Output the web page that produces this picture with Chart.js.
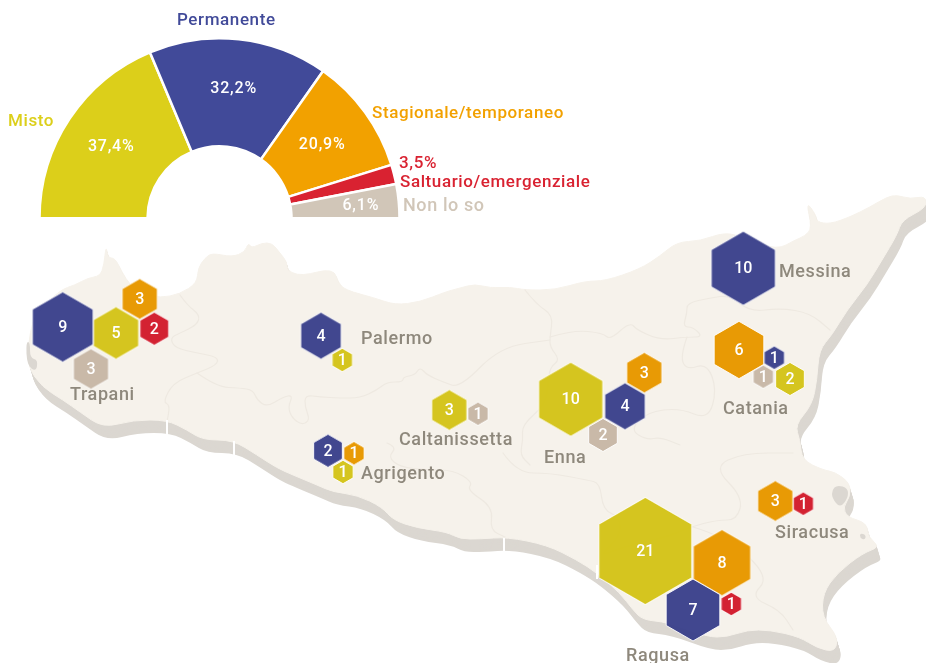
<!DOCTYPE html>
<html><head><meta charset="utf-8">
<script src="https://cdn.jsdelivr.net/npm/chart.js@4"></script>
<style>html,body{margin:0;padding:0;background:#fff;width:926px;height:663px;overflow:hidden}
canvas{position:absolute;left:0;top:0}</style></head>
<body>
<canvas id="map" width="926" height="663"></canvas>
<canvas id="pie" width="926" height="230"></canvas>
<script>
// ---- share of answers (half doughnut)
const categories = ['Misto','Permanente','Stagionale/temporaneo','Saltuario/emergenziale','Non lo so'];
const shares = [37.4,32.2,20.9,3.5,6.1];
const shareLabels = ['37,4%','32,2%','20,9%','3,5%','6,1%'];

// ---- counts per province and map location of each hexagon
const mistoValues = [5,1,3,1,10,2,21];
const mistoX = [116,342.3,449.3,343,570.7,790,645.3];
const mistoY = [333,360,410,472,399.3,379,551];
const permanenteValues = [9,4,2,4,10,1,7];
const permanenteX = [62.7,321,328,625,743.3,774.3,693];
const permanenteY = [327,335.7,450.7,406.3,268.3,357.7,610];
const stagionaleValues = [3,1,3,6,3,8];
const stagionaleX = [139.7,354,644.3,739,775.3,722];
const stagionaleY = [299,453.3,372.7,350,501,562.7];
const saltuarioValues = [2,1,1];
const saltuarioX = [154.3,803.3,731.3];
const saltuarioY = [328.7,503.7,604];
const nonLoSoValues = [3,1,2,1];
const nonLoSoX = [91,478,603,763.3];
const nonLoSoY = [369,413.7,435,376.7];

const provinceNames = ['Trapani','Palermo','Caltanissetta','Agrigento','Enna','Messina','Catania','Siracusa','Ragusa'];
const provinceLabelX = [70,361,399,361,544,779,723,775,626];
const provinceLabelY = [394,338,439,473,457,271,408,532,655];

// ---- decorative base map (outline of the island and province borders)
const coast = [[28,345],[33,320],[40,310],[60,290],[75,285],[88,278],[100,276],[104,265],[106,245],[108,258],[115,258],[122,272],[130,285],[143,293],[160,298],[180,294],[197,283],[198,268],[205,258],[212,253],[232,257],[245,252],[248,243],[252,248],[262,243],[272,243],[280,253],[287,262],[287,270],[297,275],[310,274],[325,270],[335,272],[338,282],[345,290],[375,298],[395,305],[420,302],[445,292],[460,288],[475,284],[490,288],[510,287],[525,290],[555,290],[585,281],[605,281],[640,269],[660,256],[677,242],[700,241],[725,232],[745,238],[777,250],[795,240],[805,236],[812,228],[806,201],[816,215],[817,222],[830,224],[850,217],[870,207],[887,197],[897,195],[910,199],[926,196],[926,208],[902,220],[897,235],[882,260],[867,285],[847,310],[832,335],[819,350],[817,380],[812,405],[795,425],[800,440],[802,460],[823,470],[835,472],[850,483],[850,497],[843,507],[847,517],[867,523],[868,537],[880,547],[863,553],[837,573],[823,593],[822,617],[838,637],[835,652],[817,648],[800,637],[770,630],[747,630],[727,637],[707,637],[667,622],[643,620],[633,610],[620,593],[597,573],[577,560],[547,545],[507,537],[480,539],[460,539],[447,532],[417,528],[393,520],[382,507],[357,495],[333,492],[317,485],[293,475],[277,468],[257,455],[233,440],[203,440],[187,430],[167,420],[133,420],[103,428],[80,412],[63,400],[42,387],[28,367]];
const borders = [
 [[180,295],[187,305],[200,315],[197,325],[180,333],[170,338],[175,348],[197,353],[218,357],[217,365],[197,373],[173,383],[163,402],[170,405],[167,422]],
 [[197,373],[217,387],[240,388],[253,390],[257,400],[267,407],[283,397],[293,395],[288,407],[292,418],[302,425],[310,420],[305,407],[305,395],[320,397],[340,398],[360,398],[377,390],[387,382],[403,382],[403,377],[415,375],[420,367],[427,375],[443,382],[460,388],[500,347],[550,340]],
 [[525,290],[537,305],[553,315],[550,337],[550,347],[560,360],[550,367],[548,385],[545,405],[522,425],[523,440],[520,455],[530,465]],
 [[550,337],[573,330],[603,333],[610,340],[630,322],[637,330],[660,340],[687,337],[703,337],[693,327],[683,327],[687,313],[687,303],[710,298],[730,295],[750,312],[780,308],[810,313],[830,330]],
 [[687,337],[680,357],[687,370],[707,363],[717,390],[708,420],[680,408],[647,412],[630,430],[647,440],[660,437],[680,445]],
 [[387,443],[397,447],[388,457],[400,467],[427,470],[453,470],[473,482],[467,490],[493,507],[490,530],[505,537]],
 [[503,453],[517,473],[550,473],[587,480],[600,483],[603,510],[620,517],[620,537],[598,557],[623,547],[667,537],[690,527],[717,520],[737,520],[743,497],[713,467],[743,453],[793,453]],
 [[693,527],[727,537],[770,577],[750,597],[780,610],[793,630]]
];
const shadowBits = [
 [[832,490],[837,485],[848,488],[848,498],[840,508],[832,498]],
 [[860,533],[866,535],[865,540],[860,538]],
 [[26,342],[30,342],[30,358],[38,360],[36,372],[27,365]]
];
const seaNotches = [[504,538,504,552],[597,565,597,579],[167,420,167,434],[234,441,234,455]];

function smoothPath(ctx, pts, closed){
  ctx.beginPath();
  const n = pts.length, mid=(a,b)=>[(a[0]+b[0])/2,(a[1]+b[1])/2];
  if(closed){
    const s = mid(pts[n-1],pts[0]); ctx.moveTo(s[0],s[1]);
    for(let i=0;i<n;i++){ const m=mid(pts[i],pts[(i+1)%n]); ctx.quadraticCurveTo(pts[i][0],pts[i][1],m[0],m[1]); }
    ctx.closePath();
  } else {
    ctx.moveTo(pts[0][0],pts[0][1]);
    for(let i=1;i<n-1;i++){ const m=mid(pts[i],pts[i+1]); ctx.quadraticCurveTo(pts[i][0],pts[i][1],m[0],m[1]); }
    ctx.lineTo(pts[n-1][0],pts[n-1][1]);
  }
}
const baseMapPlugin = {
  id:'baseMap',
  beforeDatasetsDraw(chart){
    const c = chart.ctx; c.save();
    c.lineJoin='round'; c.lineCap='round';
    c.fillStyle='#dbd7d1';
    for(let i=13;i>=1;i--){ c.save(); c.translate(i*0.3,i); smoothPath(c,coast,true); c.fill(); c.restore(); }
    c.fillStyle='#f6f2eb'; c.strokeStyle='#f6f2eb'; c.lineWidth=1;
    smoothPath(c,coast,true); c.fill(); c.stroke();
    c.fillStyle='#dbd7d1';
    shadowBits.forEach(b=>{ smoothPath(c,b,true); c.fill(); });
    c.strokeStyle='#eee9e1'; c.lineWidth=1.2;
    borders.forEach(b=>{ smoothPath(c,b,false); c.stroke(); });
    c.strokeStyle='#ffffff'; c.lineWidth=2; c.lineCap='butt';
    seaNotches.forEach(n=>{ c.beginPath(); c.moveTo(n[0],n[1]); c.lineTo(n[2],n[3]); c.stroke(); });
    c.restore();
  }
};

// ---- hexagon marker, area proportional to the count
const HEX_SCALE = 11.7;
function hexagon(value, color){
  const R = HEX_SCALE*Math.sqrt(value);
  const size = Math.ceil(2*R+4);
  const cv = document.createElement('canvas'); cv.width=size; cv.height=size;
  const g = cv.getContext('2d');
  g.beginPath();
  for(let i=0;i<6;i++){
    const a = Math.PI/3*i - Math.PI/2;
    const x=size/2+R*Math.cos(a), y=size/2+R*Math.sin(a);
    i?g.lineTo(x,y):g.moveTo(x,y);
  }
  g.closePath();
  g.fillStyle=color; g.fill();
  g.lineWidth=1; g.strokeStyle='rgba(255,255,255,0.9)'; g.lineJoin='miter'; g.stroke();
  return cv;
}
function series(label, vals, xs, ys, color){
  return {
    label,
    data: vals.map((v,i)=>({x:xs[i],y:ys[i],v})),
    pointStyle: ctx => ctx.raw ? hexagon(ctx.raw.v,color) : 'circle',
    pointRadius: ctx => ctx.raw ? HEX_SCALE*Math.sqrt(ctx.raw.v) : 0,
    showLine:false, clip:false
  };
}
const hexLabelPlugin = {
  id:'hexLabels',
  afterDatasetsDraw(chart){
    const c = chart.ctx; c.save();
    c.textAlign='center'; c.textBaseline='middle';
    c.fillStyle='#ffffff'; c.font='500 16px Roboto';
    chart.data.datasets.forEach((ds,d)=>{
      chart.getDatasetMeta(d).data.forEach((el,i)=>{
        c.fillText(String(ds.data[i].v), el.x, el.y+1);
      });
    });
    c.textAlign='left'; c.fillStyle='#8e887c'; c.font='500 18px Roboto';
    c.letterSpacing='0.6px';
    provinceNames.forEach((n,i)=> c.fillText(n, chart.scales.x.getPixelForValue(provinceLabelX[i]), chart.scales.y.getPixelForValue(provinceLabelY[i])+1.5));
    c.restore();
  }
};
new Chart(document.getElementById('map'),{
  type:'scatter',
  data:{datasets:[
    series(categories[1],permanenteValues,permanenteX,permanenteY,'rgba(57,63,138,0.96)'),
    series(categories[0],mistoValues,mistoX,mistoY,'rgba(211,195,22,0.96)'),
    series(categories[2],stagionaleValues,stagionaleX,stagionaleY,'rgba(232,152,0,0.98)'),
    series(categories[3],saltuarioValues,saltuarioX,saltuarioY,'rgba(210,30,46,0.98)'),
    series(categories[4],nonLoSoValues,nonLoSoX,nonLoSoY,'rgba(200,184,166,0.98)')
  ]},
  options:{
    responsive:false, animation:false, events:[],
    layout:{padding:0,autoPadding:false},
    plugins:{legend:{display:false},tooltip:{enabled:false}},
    scales:{
      x:{type:'linear',min:0,max:926,display:false},
      y:{type:'linear',min:0,max:663,reverse:true,display:false}
    }
  },
  plugins:[baseMapPlugin,hexLabelPlugin]
});

// ---- half doughnut
const shareColors = ['#dccf1a','#414a99','#f2a100','#d92231','#d1c6b8'];
const labelRadius = [130,131,127,null,142];
const outerLabels = [
  {text:categories[0],x:8,y:122,size:17,color:'#dccf1a'},
  {text:categories[1],x:177,y:20.5,size:17,color:'#414a99'},
  {text:categories[2],x:372,y:113.5,size:17,color:'#f2a100'},
  {text:shareLabels[3],x:399,y:163.5,size:17,color:'#d92231'},
  {text:categories[3],x:400,y:182.5,size:17,color:'#d92231'},
  {text:categories[4],x:403,y:206.5,size:18,color:'#d1c6b8'}
];
const pieLabelPlugin = {
  id:'pieLabels',
  afterDatasetsDraw(chart){
    const c = chart.ctx, meta = chart.getDatasetMeta(0);
    c.save(); c.textBaseline='middle';
    c.font='500 16px Roboto'; c.fillStyle='#fff'; c.textAlign='center'; c.letterSpacing='0.8px';
    meta.data.forEach((arc,i)=>{
      if(labelRadius[i]===null) return;
      const a=(arc.startAngle+arc.endAngle)/2;
      c.fillText(shareLabels[i], arc.x+labelRadius[i]*Math.cos(a), arc.y+labelRadius[i]*Math.sin(a)+1);
    });
    c.textAlign='left'; c.letterSpacing='0.6px';
    outerLabels.forEach(l=>{ c.font='500 '+l.size+'px Roboto'; c.fillStyle=l.color; c.fillText(l.text,l.x,l.y); });
    c.restore();
  }
};
new Chart(document.getElementById('pie'),{
  type:'doughnut',
  data:{labels:categories,datasets:[{data:shares,backgroundColor:shareColors,borderColor:'#ffffff',borderWidth:2.5,borderAlign:'center'}]},
  options:{
    responsive:false, animation:false, events:[],
    rotation:-90, circumference:180, cutout:'40%',
    layout:{padding:{left:37,right:524,top:37,bottom:10.5}},
    plugins:{legend:{display:false},tooltip:{enabled:false}}
  },
  plugins:[pieLabelPlugin]
});
</script>
</body></html>
